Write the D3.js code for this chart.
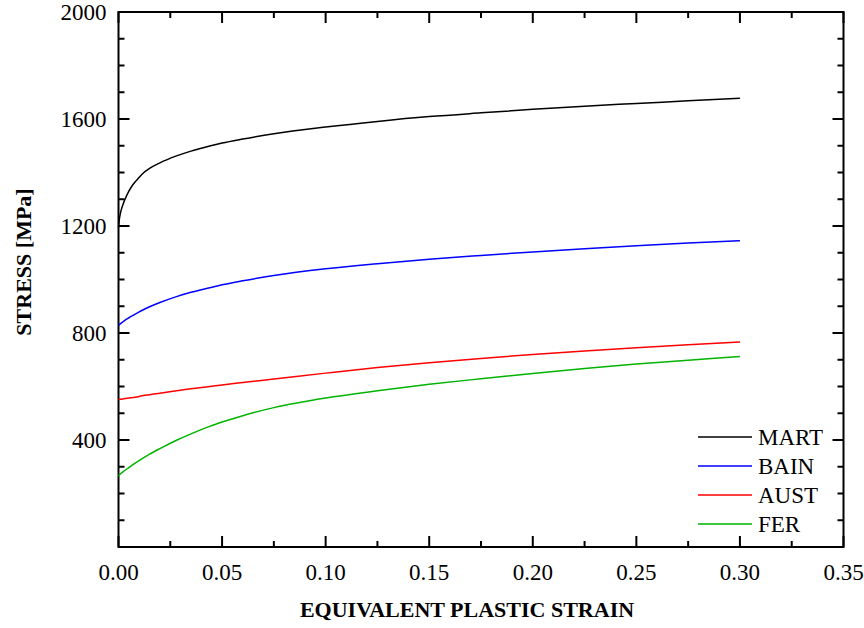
<!DOCTYPE html>
<html><head><meta charset="utf-8">
<script src="https://cdn.jsdelivr.net/npm/d3@7"></script>
<style>body{margin:0;background:#fff}svg{display:block}text{font-family:"Liberation Serif","Times New Roman",serif;fill:#000}</style>
</head><body>
<svg id="c" width="864" height="628"></svg>
<script>
const strain = [0, 0.0005, 0.001, 0.002, 0.003, 0.005, 0.007, 0.01, 0.012, 0.015, 0.02, 0.028, 0.035, 0.044, 0.05, 0.06, 0.075, 0.1, 0.125, 0.15, 0.175, 0.2, 0.225, 0.25, 0.275, 0.3];
const mart = [1195, 1230, 1250, 1277, 1297, 1330, 1355, 1382, 1398, 1415, 1436, 1462, 1480, 1499, 1510, 1525, 1545, 1570, 1591, 1609, 1623, 1636, 1648, 1658, 1668, 1678];
const bain = [828, 832, 835, 841, 847, 857, 866, 879, 887, 898, 914, 936, 952, 969, 980, 995, 1015, 1040, 1059, 1076, 1090, 1103, 1115, 1126, 1136, 1145];
const aust = [551, 552, 552, 553, 555, 557, 559, 563, 566, 569, 575, 584, 592, 600, 606, 615, 628, 650, 671, 689, 705, 720, 733, 745, 756, 766];
const fer  = [265, 270, 274, 280, 286, 297, 308, 323, 333, 347, 368, 399, 423, 451, 467, 491, 521, 557, 584, 608, 629, 649, 667, 684, 698, 712];
const seriesNames = ["MART", "BAIN", "AUST", "FER"];
const seriesColors = ["#000000", "#0000ff", "#ff0000", "#00b400"];
const xTicks = [0, 0.05, 0.1, 0.15, 0.2, 0.25, 0.3, 0.35];
const yTicks = [400, 800, 1200, 1600, 2000];

const svg = d3.select("#c");
const L = 118.5, T = 12, W = 725, H = 535;
const x = d3.scaleLinear().domain([0, 0.35]).range([L, L + W]);
const y = d3.scaleLinear().domain([0, 2000]).range([T + H, T]);
const series = [mart, bain, aust, fer];

const xMinor = d3.range(0, 0.3501, 0.025);
const yMinor = d3.range(0, 2001, 100);

const g = svg.append("g");
function tickLines(sel, vals, major, side) {
  vals.forEach(v => {
    const isMajor = major.some(m => Math.abs(m - v) < 1e-9);
    const len = isMajor ? 11 : 6;
    let x1, y1, x2, y2;
    if (side === "bottom") { x1 = x2 = x(v); y1 = T + H; y2 = T + H - len; }
    if (side === "top") { x1 = x2 = x(v); y1 = T; y2 = T + len; }
    if (side === "left") { y1 = y2 = y(v); x1 = L; x2 = L + len; }
    if (side === "right") { y1 = y2 = y(v); x1 = L + W; x2 = L + W - len; }
    sel.append("line").attr("x1", x1).attr("y1", y1).attr("x2", x2).attr("y2", y2)
      .attr("stroke", "#000").attr("stroke-width", 2);
  });
}
tickLines(g, xMinor, xTicks, "bottom");
tickLines(g, xMinor, xTicks, "top");
tickLines(g, yMinor, yTicks.concat([0]), "left");
tickLines(g, yMinor, yTicks.concat([0]), "right");

g.append("rect").attr("x", L).attr("y", T).attr("width", W).attr("height", H)
  .attr("fill", "none").attr("stroke", "#000").attr("stroke-width", 2);

g.selectAll(".xl").data(xTicks).enter().append("text")
  .attr("x", d => x(d)).attr("y", T + H + 33).attr("text-anchor", "middle")
  .style("font-size", "23px").text(d => d3.format(".2f")(d));
g.selectAll(".yl").data(yTicks).enter().append("text")
  .attr("x", L - 12).attr("y", d => y(d) + 8).attr("text-anchor", "end")
  .style("font-size", "23px").text(d => d);

svg.append("text").attr("x", 467).attr("y", 617).attr("text-anchor", "middle")
  .style("font-size", "22px").style("font-weight", "bold").text("EQUIVALENT PLASTIC STRAIN");
svg.append("text").attr("transform", "translate(31,262) rotate(-90)").attr("text-anchor", "middle")
  .style("font-size", "22px").style("font-weight", "bold").text("STRESS [MPa]");

const line = d3.line().x((d, i) => x(strain[i])).y(d => y(d)).curve(d3.curveMonotoneX);
series.forEach((s, k) => {
  svg.append("path").attr("d", line(s)).attr("fill", "none")
    .attr("stroke", seriesColors[k]).attr("stroke-width", 1.5);
});

const legY = [437, 466, 495, 524];
seriesNames.forEach((n, k) => {
  svg.append("line").attr("x1", 698).attr("x2", 752).attr("y1", legY[k]).attr("y2", legY[k])
    .attr("stroke", seriesColors[k]).attr("stroke-width", 1.5);
  svg.append("text").attr("x", 758).attr("y", legY[k] + 8).style("font-size", "23px").text(n);
});
</script>
</body></html>
